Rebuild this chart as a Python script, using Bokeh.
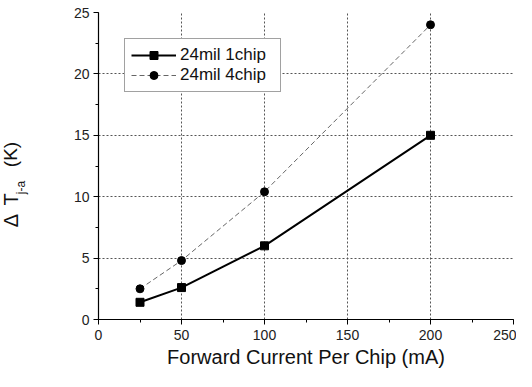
import math
from bokeh.plotting import figure
from bokeh.layouts import row
from bokeh.models import Legend, LegendItem, FixedTicker, Range1d
from bokeh.core.properties import value
from bokeh.embed import file_html
from bokeh.resources import INLINE

# ---- data ----
current_ma = [25, 50, 100, 200]
dt_1chip = [1.4, 2.6, 6.0, 15.0]
dt_4chip = [2.5, 4.8, 10.4, 24.0]
series_names = ["24mil 1chip", "24mil 4chip"]
x_ticks = [0, 50, 100, 150, 200, 250]
y_ticks = [0, 5, 10, 15, 20, 25]
x_grid = [50, 100, 150, 200]
y_grid = [5, 10, 15, 20]
x_title = "Forward Current Per Chip (mA)"
y_title_parts = ["Δ", "T", "j-a", "(K)"]

FONT = "Liberation Sans"

W, H = 516, 371
LW = 40                      # width of the strip holding the y title
FL, FT, FR, FB = 98, 12, 513, 319  # frame edges in figure px

# ---- left strip with the y-axis title (its frame is aligned with the main frame,
#      so the y range is expressed in figure pixels from the top) ----
t = figure(width=LW, height=H, output_backend="svg", toolbar_location=None,
           x_range=Range1d(0, LW), y_range=Range1d(FB, FT),
           x_axis_type=None, y_axis_type=None,
           min_border_left=0, min_border_right=0,
           min_border_top=FT, min_border_bottom=H - FB)
t.outline_line_color = None
t.grid.visible = False
title_x = [10, 10, 20, 10]
title_y = [220, 199, 187, 154]
title_size = ["20px", "20px", "12px", "19px"]
for txt, xx, yy, sz in zip(y_title_parts, title_x, title_y, title_size):
    t.text(x=[xx], y=[yy], text=[txt], angle=math.pi / 2,
           text_align="center", text_baseline="middle",
           text_font=value(FONT), text_font_size=value(sz), text_color="#111111")

# ---- main plot ----
p = figure(width=W - LW, height=H, output_backend="svg", toolbar_location=None,
           x_range=Range1d(0, 250), y_range=Range1d(0, 25),
           min_border_left=FL - LW, min_border_top=FT,
           min_border_right=W - FR, min_border_bottom=H - FB)
p.outline_line_color = None

for ax in (p.xaxis[0], p.yaxis[0]):
    ax.axis_line_color = "black"
    ax.axis_line_width = 1.2
    ax.major_tick_line_color = "black"
    ax.minor_tick_line_color = "black"
    ax.major_tick_in = 0
    ax.major_tick_out = 5
    ax.minor_tick_in = 0
    ax.minor_tick_out = 3
    ax.major_label_text_font = FONT
    ax.major_label_text_font_size = "14px"
    ax.major_label_text_color = "#222222"

p.xaxis.ticker = FixedTicker(ticks=x_ticks, minor_ticks=list(range(0, 251, 25)))
p.yaxis.ticker = FixedTicker(ticks=y_ticks, minor_ticks=[i * 2.5 for i in range(11)])
p.xaxis.major_label_standoff = 5
p.yaxis.major_label_standoff = 4

p.xaxis.axis_label = x_title
p.xaxis.axis_label_text_font = FONT
p.xaxis.axis_label_text_font_size = "20px"
p.xaxis.axis_label_text_font_style = "normal"
p.xaxis.axis_label_text_color = "#111111"
p.xaxis.axis_label_standoff = 3

p.xgrid.ticker = FixedTicker(ticks=x_grid)
p.ygrid.ticker = FixedTicker(ticks=y_grid)
for g in (p.xgrid[0], p.ygrid[0]):
    g.grid_line_color = "#555555"
    g.grid_line_dash = "2 2"
    g.grid_line_width = 1

# series
l1 = p.line(current_ma, dt_1chip, line_color="black", line_width=2)
s1 = p.scatter(current_ma, dt_1chip, marker="square", size=8, fill_color="black", line_color="black")
l2 = p.line(current_ma, dt_4chip, line_color="#666666", line_width=1, line_dash="5 3")
s2 = p.scatter(current_ma, dt_4chip, marker="circle", size=8, fill_color="black", line_color="black")

legend = Legend(items=[LegendItem(label=series_names[0], renderers=[l1, s1]),
                       LegendItem(label=series_names[1], renderers=[l2, s2])],
                location=(26, 227), orientation="vertical")
legend.border_line_color = "#444444"
legend.border_line_width = 1
legend.background_fill_alpha = 1
legend.label_text_font = FONT
legend.label_text_font_size = "17px"
legend.label_text_color = "#111111"
legend.glyph_width = 45
legend.glyph_height = 20
legend.label_height = 20
legend.label_width = 94
legend.label_standoff = 4
legend.spacing = 0
legend.padding = 6
legend.margin = 0
p.add_layout(legend, "center")

layout = row(t, p, spacing=0)
open("out.html", "w").write(file_html(layout, INLINE))
